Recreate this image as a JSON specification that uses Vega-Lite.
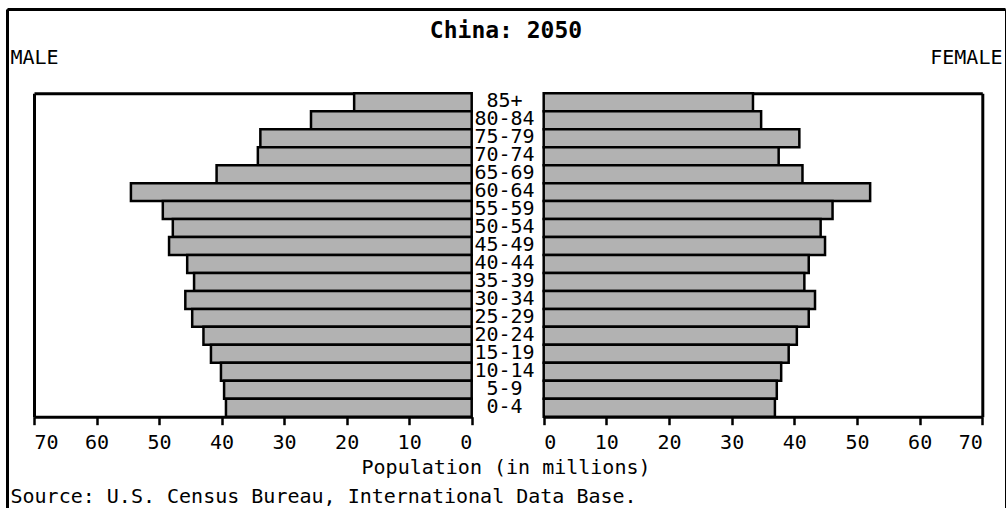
{
  "$schema": "https://vega.github.io/schema/vega-lite/v6.json",
  "width": 998,
  "height": 499,
  "autosize": "none",
  "padding": {"left": 7, "top": 9, "right": 3, "bottom": 0},
  "background": "white",
  "title": {
    "text": "China: 2050",
    "anchor": "middle",
    "frame": "group",
    "baseline": "alphabetic",
    "offset": -52,
    "font": "DejaVu Sans Mono",
    "fontSize": 23,
    "fontWeight": "bold",
    "color": "black"
  },
  "data": {
    "values": [
      {"age": "85+", "sex": "Male", "pop": 18.8}, {"age": "85+", "sex": "Female", "pop": 33.4},
      {"age": "80-84", "sex": "Male", "pop": 25.7}, {"age": "80-84", "sex": "Female", "pop": 34.7},
      {"age": "75-79", "sex": "Male", "pop": 33.8}, {"age": "75-79", "sex": "Female", "pop": 40.8},
      {"age": "70-74", "sex": "Male", "pop": 34.2}, {"age": "70-74", "sex": "Female", "pop": 37.5},
      {"age": "65-69", "sex": "Male", "pop": 40.8}, {"age": "65-69", "sex": "Female", "pop": 41.3},
      {"age": "60-64", "sex": "Male", "pop": 54.5}, {"age": "60-64", "sex": "Female", "pop": 52.1},
      {"age": "55-59", "sex": "Male", "pop": 49.4}, {"age": "55-59", "sex": "Female", "pop": 46.1},
      {"age": "50-54", "sex": "Male", "pop": 47.8}, {"age": "50-54", "sex": "Female", "pop": 44.2},
      {"age": "45-49", "sex": "Male", "pop": 48.4}, {"age": "45-49", "sex": "Female", "pop": 44.9},
      {"age": "40-44", "sex": "Male", "pop": 45.5}, {"age": "40-44", "sex": "Female", "pop": 42.3},
      {"age": "35-39", "sex": "Male", "pop": 44.4}, {"age": "35-39", "sex": "Female", "pop": 41.6},
      {"age": "30-34", "sex": "Male", "pop": 45.8}, {"age": "30-34", "sex": "Female", "pop": 43.3},
      {"age": "25-29", "sex": "Male", "pop": 44.7}, {"age": "25-29", "sex": "Female", "pop": 42.3},
      {"age": "20-24", "sex": "Male", "pop": 42.9}, {"age": "20-24", "sex": "Female", "pop": 40.4},
      {"age": "15-19", "sex": "Male", "pop": 41.7}, {"age": "15-19", "sex": "Female", "pop": 39.1},
      {"age": "10-14", "sex": "Male", "pop": 40.1}, {"age": "10-14", "sex": "Female", "pop": 37.9},
      {"age": "5-9", "sex": "Male", "pop": 39.6}, {"age": "5-9", "sex": "Female", "pop": 37.2},
      {"age": "0-4", "sex": "Male", "pop": 39.3}, {"age": "0-4", "sex": "Female", "pop": 36.9}
    ]
  },
  "layer": [
    {
      "transform": [{"filter": "datum.sex == 'Male'"}],
      "mark": {"type": "bar", "fill": "#b2b2b2", "stroke": "black", "strokeWidth": 2.5},
      "encoding": {
        "x": {
          "field": "pop", "type": "quantitative",
          "scale": {"domain": [0, 70], "range": [464.7, 27], "nice": false},
          "axis": {
            "orient": "bottom", "offset": -91.3,
            "values": [0, 10, 20, 30, 40, 50, 60, 70],
            "tickSize": 8, "tickWidth": 2.5, "domainWidth": 3,
            "labelBaseline": "alphabetic", "labelPadding": 23.3,
            "grid": false, "title": null
          }
        },
        "y": {
          "field": "age", "type": "nominal",
          "scale": {
            "domain": ["85+", "80-84", "75-79", "70-74", "65-69", "60-64", "55-59", "50-54", "45-49", "40-44", "35-39", "30-34", "25-29", "20-24", "15-19", "10-14", "5-9", "0-4"],
            "range": [84.3, 407.7], "paddingInner": 0, "paddingOuter": 0
          },
          "axis": {
            "orient": "left", "offset": -27, "domainWidth": 3,
            "ticks": false, "labels": false, "grid": false,
            "title": "Source: U.S. Census Bureau, International Data Base.",
            "titleAngle": 0, "titleAlign": "left", "titleBaseline": "alphabetic",
            "titleX": -24, "titleY": 493
          }
        }
      }
    },
    {
      "transform": [{"filter": "datum.sex == 'Male'"}],
      "mark": {"type": "bar", "opacity": 0},
      "encoding": {
        "x": {
          "field": "pop", "type": "quantitative",
          "scale": {"domain": [0, 70], "range": [464.7, 27], "nice": false},
          "axis": {
            "orient": "top", "offset": -84.3, "domainWidth": 3,
            "ticks": false, "labels": false, "grid": false,
            "title": "MALE", "titleAlign": "left", "titleBaseline": "alphabetic",
            "titleX": 3, "titleY": -30.3
          }
        },
        "y": {
          "field": "age", "type": "nominal",
          "scale": {
            "domain": ["85+", "80-84", "75-79", "70-74", "65-69", "60-64", "55-59", "50-54", "45-49", "40-44", "35-39", "30-34", "25-29", "20-24", "15-19", "10-14", "5-9", "0-4"],
            "range": [84.3, 407.7], "paddingInner": 0, "paddingOuter": 0
          },
          "axis": {
            "orient": "right", "offset": -501, "domain": false,
            "ticks": false, "tickSize": 0, "grid": false,
            "labelAlign": "center", "labelPadding": 0,
            "labelBaseline": "alphabetic", "labelOffset": 5,
            "title": null
          }
        }
      }
    },
    {
      "transform": [{"filter": "datum.sex == 'Female'"}],
      "mark": {"type": "bar", "fill": "#b2b2b2", "stroke": "black", "strokeWidth": 2.5},
      "encoding": {
        "x": {
          "field": "pop", "type": "quantitative",
          "scale": {"domain": [0, 70], "range": [536.7, 975.3], "nice": false},
          "axis": {
            "orient": "bottom", "offset": -91.3,
            "values": [0, 10, 20, 30, 40, 50, 60, 70],
            "tickSize": 8, "tickWidth": 2.5, "domainWidth": 3,
            "labelBaseline": "alphabetic", "labelPadding": 23.3,
            "grid": false,
            "title": "Population (in millions)",
            "titleAlign": "center", "titleBaseline": "alphabetic",
            "titleX": 498.5, "titleY": 56.8
          }
        },
        "y": {
          "field": "age", "type": "nominal",
          "scale": {
            "domain": ["85+", "80-84", "75-79", "70-74", "65-69", "60-64", "55-59", "50-54", "45-49", "40-44", "35-39", "30-34", "25-29", "20-24", "15-19", "10-14", "5-9", "0-4"],
            "range": [84.3, 407.7], "paddingInner": 0, "paddingOuter": 0
          },
          "axis": {
            "orient": "right", "offset": -22.7, "domainWidth": 3,
            "ticks": false, "labels": false, "grid": false, "title": null
          }
        }
      }
    },
    {
      "transform": [{"filter": "datum.sex == 'Female'"}],
      "mark": {"type": "bar", "opacity": 0},
      "encoding": {
        "x": {
          "field": "pop", "type": "quantitative",
          "scale": {"domain": [0, 70], "range": [536.7, 975.3], "nice": false},
          "axis": {
            "orient": "top", "offset": -84.3, "domainWidth": 3,
            "ticks": false, "labels": false, "grid": false,
            "title": "FEMALE", "titleAlign": "right", "titleBaseline": "alphabetic",
            "titleX": 995, "titleY": -30.3
          }
        },
        "y": {
          "field": "age", "type": "nominal",
          "scale": {
            "domain": ["85+", "80-84", "75-79", "70-74", "65-69", "60-64", "55-59", "50-54", "45-49", "40-44", "35-39", "30-34", "25-29", "20-24", "15-19", "10-14", "5-9", "0-4"],
            "range": [84.3, 407.7], "paddingInner": 0, "paddingOuter": 0
          },
          "axis": null
        }
      }
    },
    {
      "transform": [{"filter": "datum.sex == 'Female'"}],
      "mark": {"type": "bar", "opacity": 0},
      "encoding": {
        "x": {
          "field": "pop", "type": "quantitative",
          "scale": {"domain": [0, 70], "range": [0, 998], "nice": false},
          "axis": {
            "orient": "top", "offset": 0, "domainWidth": 3,
            "ticks": false, "labels": false, "grid": false, "title": null
          }
        },
        "y": {
          "field": "age", "type": "nominal",
          "scale": {"range": [0, 499], "paddingInner": 0, "paddingOuter": 0},
          "axis": {
            "orient": "left", "offset": 0, "domainWidth": 3,
            "ticks": false, "labels": false, "grid": false, "title": null
          }
        }
      }
    }
  ],
  "resolve": {
    "scale": {"x": "independent", "y": "independent"},
    "axis": {"x": "independent", "y": "independent"}
  },
  "config": {
    "view": {"stroke": "black", "strokeWidth": 1},
    "font": "DejaVu Sans Mono",
    "axis": {
      "domainColor": "black",
      "tickColor": "black",
      "labelColor": "black",
      "labelFont": "DejaVu Sans Mono",
      "labelFontSize": 20,
      "titleColor": "black",
      "titleFont": "DejaVu Sans Mono",
      "titleFontSize": 20,
      "titleFontWeight": "normal"
    }
  }
}
